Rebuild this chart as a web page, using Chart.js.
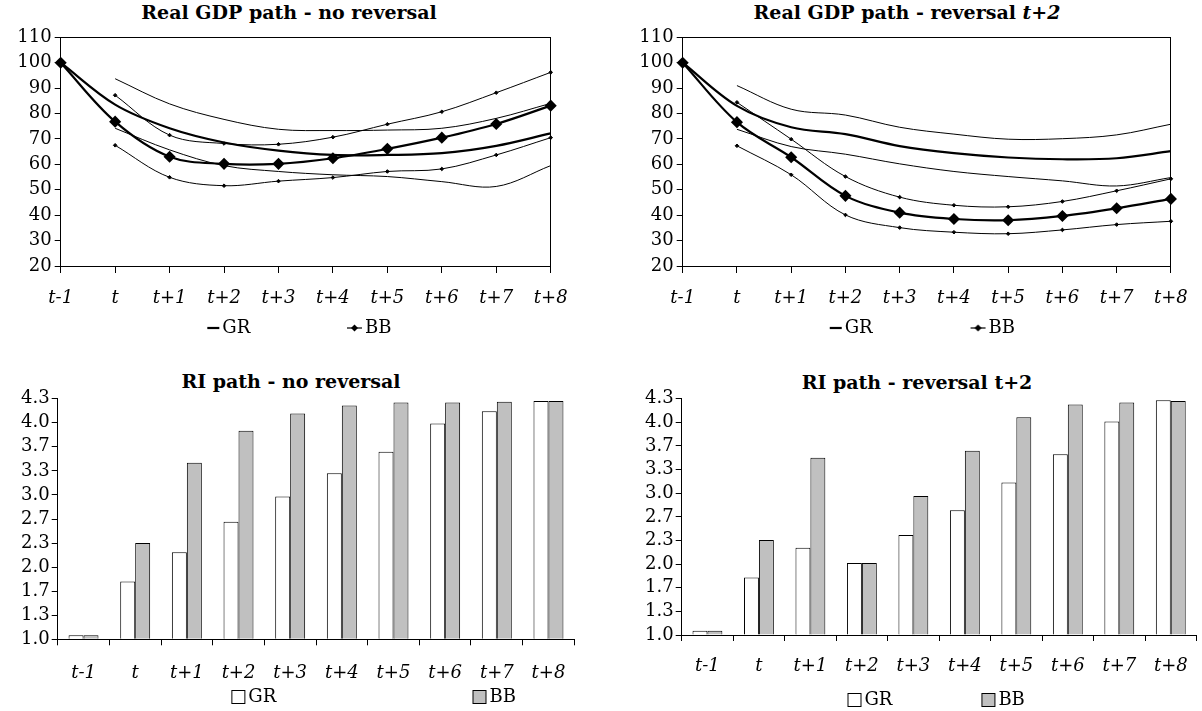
<!DOCTYPE html>
<html>
<head>
<meta charset="utf-8">
<script src="https://cdn.jsdelivr.net/npm/chart.js@4.4.0/dist/chart.umd.min.js"></script>
<style>
  html, body { margin: 0; padding: 0; background: #fff; overflow: hidden; width: 1202px; height: 711px; }
  canvas { position: absolute; }
  .ttl { position: absolute; width: 600px; text-align: center; white-space: nowrap;
         font: bold 19px 'DejaVu Serif', serif; line-height: 22px; color: #000; }
</style>
</head>
<body>
<div class="ttl" style="left:-11px; top:1px;">Real GDP path - no reversal</div>
<div class="ttl" style="left:607px; top:1px;">Real GDP path - reversal <i>t+2</i></div>
<div class="ttl" style="left:-9px; top:370px;">RI path - no reversal</div>
<div class="ttl" style="left:617px; top:371px;">RI path - reversal t+2</div>

<canvas id="gdpNo" width="600" height="347" style="left:0; top:0;"></canvas>
<canvas id="gdpRev" width="602" height="347" style="left:600px; top:0;"></canvas>
<canvas id="riNo" width="600" height="356" style="left:0; top:360px;"></canvas>
<canvas id="riRev" width="612" height="359" style="left:590px; top:360px;"></canvas>

<script>
// periods on the x axis
const periods = ['t-1', 't', 't+1', 't+2', 't+3', 't+4', 't+5', 't+6', 't+7', 't+8'];

// Real GDP path - no reversal
const gdpGrNo   = [100, 83.5, 74.2, 68.6, 65.4, 63.7, 63.7, 64.4, 67.3, 72.2];
const gdpBbNo   = [100, 76.8, 63.0, 60.2, 60.2, 62.4, 66.1, 70.5, 75.9, 83.1];
const gdpGrNoHi = [null, 93.7, 83.8, 77.7, 73.8, 73.3, 73.5, 74.2, 78.1, 84.0];
const gdpGrNoLo = [null, 74.2, 65.7, 59.5, 57.2, 55.9, 55.2, 53.2, 51.3, 59.5];
const gdpBbNoHi = [null, 87.2, 71.5, 68.2, 67.9, 70.7, 75.8, 80.7, 88.2, 96.2];
const gdpBbNoLo = [null, 67.5, 54.9, 51.6, 53.4, 54.8, 57.2, 58.2, 63.7, 70.5];

// Real GDP path - reversal t+2
const gdpGrRev   = [100, 83.0, 74.6, 71.9, 67.2, 64.4, 62.7, 62.0, 62.4, 65.2];
const gdpBbRev   = [100, 76.6, 62.8, 47.6, 41.0, 38.5, 38.0, 39.7, 42.7, 46.4];
const gdpGrRevHi = [null, 91.0, 81.7, 79.4, 74.6, 71.9, 69.9, 70.1, 71.6, 75.8];
const gdpGrRevLo = [null, 73.8, 67.0, 64.0, 60.2, 57.2, 55.2, 53.5, 51.5, 54.8];
const gdpBbRevHi = [null, 84.4, 69.9, 55.2, 47.1, 43.9, 43.3, 45.4, 49.6, 54.3];
const gdpBbRevLo = [null, 67.3, 55.9, 40.1, 35.1, 33.3, 32.7, 34.2, 36.3, 37.6];

// RI path
const riGrNo  = [1.055, 1.80, 2.205, 2.63, 2.98, 3.30, 3.60, 3.99, 4.16, 4.30];
const riBbNo  = [1.055, 2.334, 3.446, 3.89, 4.13, 4.24, 4.28, 4.28, 4.29, 4.30];
const riGrRev = [1.06, 1.81, 2.23, 2.015, 2.41, 2.76, 3.15, 3.55, 4.01, 4.31];
const riBbRev = [1.06, 2.34, 3.50, 2.015, 2.96, 3.60, 4.07, 4.25, 4.28, 4.30];

// RI axis ticks (thirds, shown with one decimal)
const riTickValues = [1, 4 / 3, 5 / 3, 2, 7 / 3, 8 / 3, 3, 10 / 3, 11 / 3, 4, 13 / 3];
const riTickLabels = ['1.0', '1.3', '1.7', '2.0', '2.3', '2.7', '3.0', '3.3', '3.7', '4.0', '4.3'];

Chart.defaults.font.family = "'DejaVu Serif', serif";
Chart.defaults.font.size = 18;
Chart.defaults.color = '#000';

// frame around the plot area (top charts)
const plotBorder = {
    id: 'plotBorder',
    afterDraw(chart) {
        const a = chart.chartArea;
        const ctx = chart.ctx;
        const l = Math.round(a.left - 0.5) + 0.5, r = Math.round(a.right - 0.5) + 0.5;
        const t = Math.round(a.top - 0.5) + 0.5, b = Math.round(a.bottom - 0.5) + 0.5;
        ctx.save();
        ctx.strokeStyle = '#000';
        ctx.lineWidth = 1;
        ctx.strokeRect(l, t, r - l, b - t);
        ctx.restore();
    }
};

/**
 * legend symbol drawn into a small canvas, right aligned next to the text
 */
function legendSymbol(kind, boxW) {
    const w = boxW + 14, h = 18, cy = h / 2;
    const c = document.createElement('canvas');
    c.width = w; c.height = h;
    const ctx = c.getContext('2d');
    ctx.fillStyle = '#000';
    if (kind === 'line') {
        ctx.fillRect(w - 13, cy - 1.1, 12, 2.2);
    } else if (kind === 'diamond') {
        ctx.fillRect(w - 16, cy - 0.6, 15, 1.2);
        const x = w - 8.5;
        ctx.beginPath();
        ctx.moveTo(x, cy - 3.5); ctx.lineTo(x + 3.5, cy); ctx.lineTo(x, cy + 3.5); ctx.lineTo(x - 3.5, cy);
        ctx.closePath();
        ctx.fill();
    } else {
        ctx.fillStyle = kind;
        ctx.fillRect(w - 14.5, cy - 6.5, 13, 13);
        ctx.strokeStyle = '#000';
        ctx.lineWidth = 1;
        ctx.strokeRect(w - 14.5, cy - 6.5, 13, 13);
    }
    return c;
}

function legendOptions(items, boxW) {
    return {
        position: 'bottom',
        labels: {
            usePointStyle: true,
            pointStyleWidth: boxW,
            padding: 6,
            color: '#000',
            font: { size: 18 },
            generateLabels: () => items.map(it => ({
                text: it.text,
                pointStyle: it.img,
                fillStyle: '#000',
                strokeStyle: '#000',
                lineWidth: 0,
                hidden: false,
                datasetIndex: it.ds,
                fontColor: '#000'
            }))
        }
    };
}

function createGdpChart(id, gr, bb, grHi, grLo, bbHi, bbLo, lay) {
    const thin = { borderColor: '#000', borderWidth: 1, tension: 0.35, clip: false, fill: false };
    new Chart(document.getElementById(id), {
        type: 'line',
        data: {
            labels: periods,
            datasets: [
                { label: 'GR', data: gr, borderColor: '#000', borderWidth: 2.2, tension: 0.35, pointRadius: 0, clip: false },
                { label: 'BB', data: bb, borderColor: '#000', borderWidth: 2.2, tension: 0.35, clip: false,
                  pointStyle: 'rectRot', pointRadius: 4.5, pointBackgroundColor: '#000', pointBorderColor: '#000' },
                Object.assign({ label: 'GR high', data: grHi, pointRadius: 0 }, thin),
                Object.assign({ label: 'GR low', data: grLo, pointRadius: 0 }, thin),
                Object.assign({ label: 'BB high', data: bbHi, pointStyle: 'rectRot', pointRadius: 1.8,
                                pointBackgroundColor: '#000', pointBorderColor: '#000' }, thin),
                Object.assign({ label: 'BB low', data: bbLo, pointStyle: 'rectRot', pointRadius: 1.8,
                                pointBackgroundColor: '#000', pointBorderColor: '#000' }, thin)
            ]
        },
        options: {
            responsive: false,
            animation: false,
            events: [],
            layout: { padding: { top: lay.top, left: 0, right: lay.right, bottom: 0 } },
            plugins: {
                title: { display: false },
                tooltip: { enabled: false },
                legend: legendOptions([
                    { text: 'GR' + ' '.repeat(lay.trail), img: legendSymbol('line', lay.box), ds: 0 },
                    { text: 'BB', img: legendSymbol('diamond', lay.box), ds: 1 }
                ], lay.box)
            },
            scales: {
                x: {
                    grid: { drawOnChartArea: false, tickLength: 7, color: '#000' },
                    border: { color: '#000', width: 1 },
                    ticks: { font: { style: 'italic', size: 18 }, padding: 14.2, autoSkip: false, maxRotation: 0 },
                    afterFit: s => { s.height = lay.xh; }
                },
                y: {
                    min: 20, max: 110,
                    grid: { drawOnChartArea: false, tickLength: 6, color: '#000' },
                    border: { color: '#000', width: 1 },
                    ticks: { stepSize: 10, padding: 3, autoSkip: false },
                    afterFit: s => { s.width = lay.yw; }
                }
            }
        },
        plugins: [plotBorder]
    });
}

function createRiChart(id, gr, bb, lay) {
    const bar = { borderColor: '#000', borderWidth: 1, base: 1, categoryPercentage: 0.58, barPercentage: 1 };
    new Chart(document.getElementById(id), {
        type: 'bar',
        data: {
            labels: periods,
            datasets: [
                Object.assign({ label: 'GR', data: gr, backgroundColor: '#ffffff' }, bar),
                Object.assign({ label: 'BB', data: bb, backgroundColor: '#c0c0c0' }, bar)
            ]
        },
        options: {
            responsive: false,
            animation: false,
            events: [],
            layout: { padding: { top: lay.top, left: 0, right: lay.right, bottom: 0 } },
            plugins: {
                title: { display: false },
                tooltip: { enabled: false },
                legend: legendOptions([
                    { text: 'GR' + ' '.repeat(lay.trail), img: legendSymbol('#ffffff', lay.box), ds: 0 },
                    { text: 'BB', img: legendSymbol('#c0c0c0', lay.box), ds: 1 }
                ], lay.box)
            },
            scales: {
                x: {
                    grid: { drawOnChartArea: false, tickLength: 6, color: '#000' },
                    border: { color: '#000', width: 1 },
                    ticks: { font: { style: 'italic', size: 18 }, padding: lay.xpad, autoSkip: false, maxRotation: 0 },
                    afterFit: s => { s.height = lay.xh; }
                },
                y: {
                    min: 1, max: 13 / 3,
                    grid: { drawOnChartArea: false, tickLength: 6, color: '#000' },
                    border: { color: '#000', width: 1 },
                    ticks: { padding: 2, autoSkip: false, callback: (v, i) => riTickLabels[i] },
                    afterBuildTicks: s => { s.ticks = riTickValues.map(v => ({ value: v })); },
                    afterFit: s => { s.width = lay.yw; }
                }
            }
        }
    });
}

createGdpChart('gdpNo', gdpGrNo, gdpBbNo, gdpGrNoHi, gdpGrNoLo, gdpBbNoHi, gdpBbNoLo,
    { top: 37.3, right: 49.3, yw: 60.7, xh: 47, box: 54, trail: 8 });
createGdpChart('gdpRev', gdpGrRev, gdpBbRev, gdpGrRevHi, gdpGrRevLo, gdpBbRevHi, gdpBbRevLo,
    { top: 37.3, right: 29.3, yw: 82.7, xh: 47, box: 78, trail: 4 });
createRiChart('riNo', riGrNo, riBbNo,
    { top: 38.7, right: 25.7, yw: 57.7, xh: 42.7, xpad: 16.9, box: 181, trail: 3 });
createRiChart('riRev', riGrRev, riBbRev,
    { top: 38.7, right: 2.7, yw: 91.7, xh: 50, xpad: 14.2, box: 91, trail: 0 });
</script>
</body>
</html>
